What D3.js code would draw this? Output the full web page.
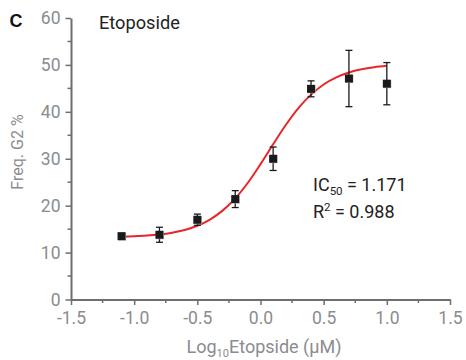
<!DOCTYPE html>
<html><head><meta charset="utf-8">
<script src="https://cdn.jsdelivr.net/npm/d3@7"></script>
<style>body{margin:0;background:#fff;} svg{display:block;font-family:Roboto, "Noto Sans", sans-serif;}</style>
</head><body>
<svg id="c" width="466" height="360"></svg>
<script>
const logDose = [-1.1, -0.8, -0.5, -0.2, 0.1, 0.4, 0.7, 1.0];
const g2Freq  = [13.5, 13.8, 17.0, 21.4, 30.0, 44.9, 47.1, 46.0];
const errLow  = [0.3, 1.6, 1.2, 1.8, 2.5, 1.7, 6.0, 4.5];
const errHigh = [0.3, 1.6, 1.2, 1.8, 2.5, 1.7, 6.0, 4.5];
const fitX = [-1.1,-1.0,-0.9,-0.8,-0.7,-0.6,-0.5,-0.4,-0.3,-0.2,-0.1,0.0,0.1,0.2,0.3,0.4,0.5,0.6,0.7,0.8,0.9,1.0];
const fitY = [13.37,13.47,13.62,13.87,14.25,14.83,15.72,17.04,18.94,21.55,24.89,28.85,33.09,37.20,40.80,43.67,45.83,47.34,48.38,49.06,49.51,49.80];
const xTicks = [-1.5,-1.0,-0.5,0.0,0.5,1.0,1.5];
const yTicks = [0,10,20,30,40,50,60];

const svg = d3.select("#c");
const x = d3.scaleLinear().domain([-1.5,1.5]).range([71,450]);
const y = d3.scaleLinear().domain([0,60]).range([299.5,18]);
const axisCol = "#6d6e71", tickCol = "#8a8c8f";

// minor ticks
const xMinor = d3.range(-1.25,1.5,0.5);
const yMinor = d3.range(5,60,10);
svg.append("g").selectAll("line").data(xMinor).join("line")
  .attr("x1",d=>x(d)).attr("x2",d=>x(d)).attr("y1",299.5).attr("y2",303)
  .attr("stroke",axisCol).attr("stroke-width",1.5);
svg.append("g").selectAll("line").data(yMinor).join("line")
  .attr("y1",d=>y(d)).attr("y2",d=>y(d)).attr("x1",71).attr("x2",67.5)
  .attr("stroke",axisCol).attr("stroke-width",1.5);

const xAxis = svg.append("g").attr("transform","translate(0,299.5)")
  .call(d3.axisBottom(x).tickValues(xTicks).tickFormat(d3.format(".1f")).tickSize(5.5).tickSizeOuter(0).tickPadding(7));
const yAxis = svg.append("g").attr("transform","translate(71,0)")
  .call(d3.axisLeft(y).tickValues(yTicks).tickFormat(d=>d).tickSize(5.5).tickSizeOuter(0).tickPadding(5));
[xAxis,yAxis].forEach(a=>{
  a.select(".domain").attr("stroke",axisCol).attr("stroke-width",2);
  a.selectAll(".tick line").attr("stroke",axisCol).attr("stroke-width",1.5);
  a.selectAll(".tick text").attr("fill",tickCol).attr("font-size",17.5).attr("font-family","Roboto, sans-serif");
});
xAxis.selectAll(".tick text").text(d=>d3.format(".1f")(d).replace("−","-"));

// fit curve
svg.append("path").datum(fitX.map((v,i)=>[v,fitY[i]]))
  .attr("d",d3.line().x(d=>x(d[0])).y(d=>y(d[1])).curve(d3.curveCatmullRom))
  .attr("fill","none").attr("stroke","#e8262a").attr("stroke-width",2);

// error bars
const eg = svg.append("g").attr("stroke","#1a1a1a").attr("stroke-width",1.3);
logDose.forEach((d,i)=>{
  const lo = y(g2Freq[i]-errLow[i]), hi = y(g2Freq[i]+errHigh[i]), cx = x(d);
  eg.append("line").attr("x1",cx).attr("x2",cx).attr("y1",lo).attr("y2",hi);
  eg.append("line").attr("x1",cx-3.5).attr("x2",cx+3.5).attr("y1",lo).attr("y2",lo);
  eg.append("line").attr("x1",cx-3.5).attr("x2",cx+3.5).attr("y1",hi).attr("y2",hi);
});
// markers
svg.append("g").selectAll("rect.s").data(logDose).join("rect")
  .attr("x",(d)=>x(d)-3.5).attr("y",(d,i)=>y(g2Freq[i])-3.5).attr("width",8).attr("height",8)
  .attr("fill","#b8b8b8");
svg.append("g").selectAll("rect.m").data(logDose).join("rect")
  .attr("x",(d)=>x(d)-4).attr("y",(d,i)=>y(g2Freq[i])-4).attr("width",8).attr("height",8)
  .attr("fill","#1a1a1a");

// texts
svg.append("text").attr("x",9.5).attr("y",27).attr("font-size",18).attr("font-weight","bold")
  .attr("fill","#111").attr("font-family","Liberation Sans, Arial, sans-serif").text("C");
svg.append("text").attr("x",99).attr("y",28.5).attr("font-size",18.2).attr("fill","#222").text("Etoposide");
svg.append("text").attr("transform","translate(22.5,152) rotate(-90)").attr("text-anchor","middle")
  .attr("font-size",16).attr("fill",tickCol).text("Freq. G2 %");
const xl = svg.append("text").attr("x",264).attr("y",353).attr("text-anchor","middle")
  .attr("font-size",18).attr("fill",tickCol);
xl.append("tspan").text("Log");
xl.append("tspan").attr("font-size",11).attr("dy",4).text("10");
xl.append("tspan").attr("dy",-4).text("Etopside (µM)");

const t1 = svg.append("text").attr("x",313).attr("y",191).attr("font-size",18).attr("fill","#222");
t1.append("tspan").text("IC");
t1.append("tspan").attr("font-size",11.5).attr("dy",4).text("50");
t1.append("tspan").attr("dy",-4).text(" = 1.171");
const t2 = svg.append("text").attr("x",313).attr("y",217.5).attr("font-size",18).attr("fill","#222");
t2.append("tspan").text("R");
t2.append("tspan").attr("font-size",11.5).attr("dy",-7).text("2");
t2.append("tspan").attr("dy",7).text(" = 0.988");
</script>
</body></html>
